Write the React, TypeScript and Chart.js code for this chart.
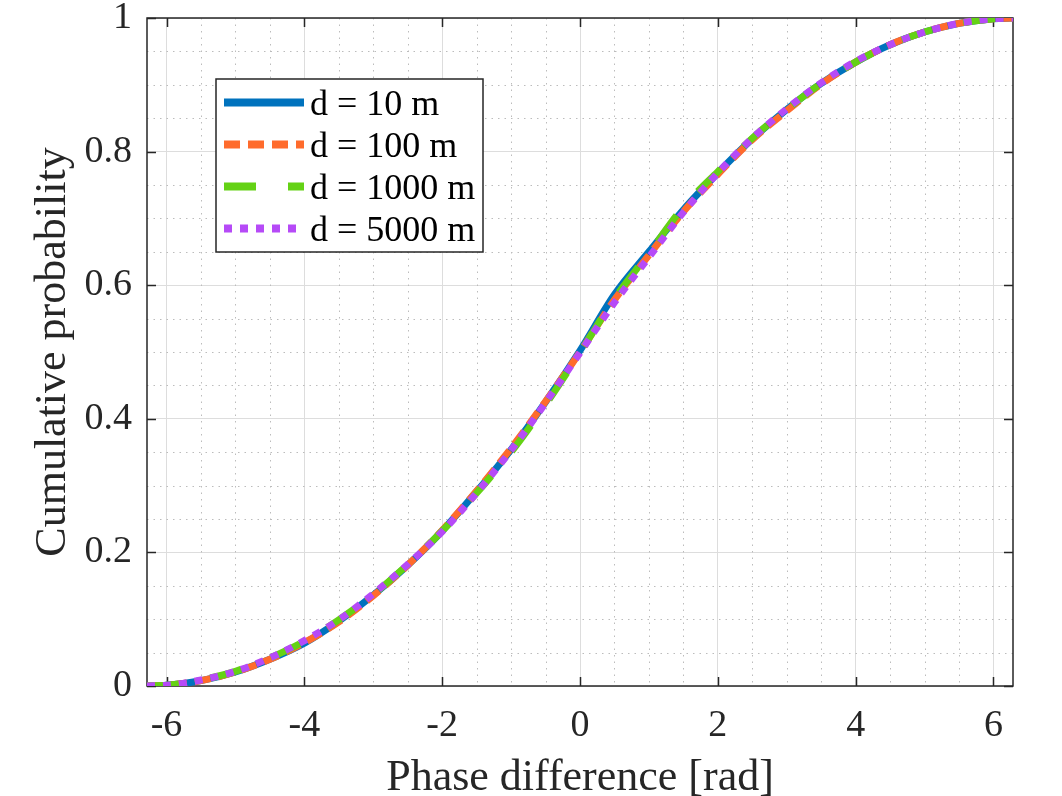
import React, { useEffect, useRef } from 'react';
import { Chart, registerables } from 'chart.js';

Chart.register(...registerables);

// ---- data ----
const phase = [
  -6.2832, -6, -5.5, -5, -4.5, -4, -3.5, -3, -2.5, -2, -1.5, -1, -0.5, 0,
  0.5, 1, 1.5, 2, 2.5, 3, 3.5, 4, 4.5, 5, 5.5, 6, 6.2832,
];
const cdf10 = [
  0, 0.001, 0.008, 0.021, 0.040, 0.064, 0.097, 0.136, 0.181, 0.232, 0.291, 0.354, 0.425, 0.502,
  0.586, 0.650, 0.713, 0.768, 0.819, 0.863, 0.902, 0.934, 0.960, 0.979, 0.992, 0.999, 1,
];
const cdf100 = [
  0, 0.001, 0.008, 0.021, 0.040, 0.065, 0.096, 0.135, 0.181, 0.233, 0.292, 0.356, 0.426, 0.500,
  0.578, 0.645, 0.710, 0.766, 0.818, 0.861, 0.901, 0.934, 0.960, 0.979, 0.992, 0.999, 1,
];
const cdf1000 = [
  0, 0.001, 0.009, 0.022, 0.042, 0.067, 0.099, 0.137, 0.182, 0.232, 0.289, 0.350, 0.421, 0.499,
  0.580, 0.648, 0.717, 0.770, 0.820, 0.863, 0.902, 0.934, 0.960, 0.979, 0.992, 0.999, 1,
];
const cdf5000 = [
  0, 0.001, 0.009, 0.022, 0.042, 0.068, 0.099, 0.138, 0.182, 0.231, 0.289, 0.353, 0.424, 0.499,
  0.574, 0.642, 0.709, 0.768, 0.820, 0.864, 0.903, 0.935, 0.960, 0.979, 0.992, 0.999, 1,
];
const seriesLabels = ['d = 10 m', 'd = 100 m', 'd = 1000 m', 'd = 5000 m'];

const xTickValues = [-6, -4, -2, 0, 2, 4, 6];
const xTickLabels = ['-6', '-4', '-2', '0', '2', '4', '6'];
const yTickValues = [0, 0.2, 0.4, 0.6, 0.8, 1];
const yTickLabels = ['0', '0.2', '0.4', '0.6', '0.8', '1'];
const xMin = -6.2832;
const xMax = 6.2832;
const xMinorStep = 0.5;
const yMinorStep = 0.05;

const FONT = "'Liberation Serif', 'Times New Roman', serif";
const AXIS_COLOR = '#262626';

const framePlugin = {
  id: 'frameAndMinorGrid',
  beforeDatasetsDraw(chart: any) {
    const { ctx, chartArea: a, scales } = chart;
    const x = scales.x;
    const y = scales.y;
    ctx.save();
    // minor dotted grid
    ctx.strokeStyle = '#bcbcbc';
    ctx.lineWidth = 1;
    ctx.setLineDash([1.5, 5]);
    ctx.beginPath();
    for (let k = Math.ceil(xMin / xMinorStep); k * xMinorStep <= xMax; k++) {
      const v = k * xMinorStep;
      if (xTickValues.some((t) => Math.abs(t - v) < 1e-6)) continue;
      const px = Math.round(x.getPixelForValue(v)) + 0.5;
      ctx.moveTo(px, a.top);
      ctx.lineTo(px, a.bottom);
    }
    for (let k = 1; k * yMinorStep < 1 - 1e-6; k++) {
      const v = k * yMinorStep;
      if (yTickValues.some((t) => Math.abs(t - v) < 1e-6)) continue;
      const py = Math.round(y.getPixelForValue(v)) + 0.5;
      ctx.moveTo(a.left, py);
      ctx.lineTo(a.right, py);
    }
    ctx.stroke();
    ctx.setLineDash([]);
    // frame
    ctx.strokeStyle = AXIS_COLOR;
    ctx.lineWidth = 1.5;
    ctx.strokeRect(a.left, a.top, a.right - a.left, a.bottom - a.top);
    // inward ticks
    const tl = 9;
    ctx.beginPath();
    xTickValues.forEach((v) => {
      const px = Math.round(x.getPixelForValue(v)) + 0.5;
      ctx.moveTo(px, a.bottom);
      ctx.lineTo(px, a.bottom - tl);
      ctx.moveTo(px, a.top);
      ctx.lineTo(px, a.top + tl);
    });
    yTickValues.forEach((v) => {
      const py = Math.round(y.getPixelForValue(v)) + 0.5;
      ctx.moveTo(a.left, py);
      ctx.lineTo(a.left + tl, py);
      ctx.moveTo(a.right, py);
      ctx.lineTo(a.right - tl, py);
    });
    ctx.stroke();
    ctx.restore();
  },
};

const legendPlugin = {
  id: 'boxLegend',
  afterDraw(chart: any) {
    const { ctx, chartArea: a } = chart;
    const bx = a.left + 69;
    const by = a.top + 61;
    const bw = 267;
    const bh = 173;
    ctx.save();
    ctx.fillStyle = '#ffffff';
    ctx.fillRect(bx, by, bw, bh);
    ctx.strokeStyle = AXIS_COLOR;
    ctx.lineWidth = 1.5;
    ctx.strokeRect(bx, by, bw, bh);
    chart.data.datasets.forEach((ds: any, i: number) => {
      const cy = by + 23.5 + i * 42;
      ctx.beginPath();
      ctx.strokeStyle = ds.borderColor;
      ctx.lineWidth = 8;
      ctx.lineCap = 'butt';
      ctx.setLineDash(ds.borderDash || []);
      ctx.moveTo(bx + 8, cy);
      ctx.lineTo(bx + 88, cy);
      ctx.stroke();
      ctx.setLineDash([]);
      ctx.fillStyle = '#000000';
      ctx.font = `36px ${FONT}`;
      ctx.textAlign = 'left';
      ctx.textBaseline = 'middle';
      ctx.fillText(ds.label, bx + 94, cy + 3);
    });
    ctx.restore();
  },
};

export default function App() {
  const ref = useRef<HTMLCanvasElement>(null);
  useEffect(() => {
    document.body.style.margin = '0';
    const canvas = ref.current;
    if (!canvas) return;
    const colors = ['#0072BD', '#FF6B2C', '#64D215', '#B64AF7'];
    const dashes = [[], [16, 8], [32, 32], [8, 8]];
    const series = [cdf10, cdf100, cdf1000, cdf5000];
    const datasets = series.map((s, i) => ({
      label: seriesLabels[i],
      data: phase.map((x, j) => ({ x, y: s[j] })),
      borderColor: colors[i],
      backgroundColor: colors[i],
      borderWidth: 7,
      borderDash: dashes[i],
      borderCapStyle: 'butt' as const,
      pointRadius: 0,
      fill: false,
      cubicInterpolationMode: 'monotone' as const,
      order: 3 - i,
    }));
    const chart = new Chart(canvas, {
      type: 'line',
      data: { datasets },
      plugins: [framePlugin, legendPlugin],
      options: {
        animation: false,
        responsive: false,
        devicePixelRatio: 1,
        layout: { padding: { left: 0, right: 49, top: 18, bottom: 0 } },
        plugins: { legend: { display: false }, tooltip: { enabled: false } },
        scales: {
          x: {
            type: 'linear',
            min: xMin,
            max: xMax,
            afterBuildTicks: (s: any) => {
              s.ticks = xTickValues.map((v) => ({ value: v }));
            },
            afterFit: (s: any) => {
              s.height = 110;
              s.paddingLeft = 0;
              s.paddingRight = 0;
            },
            ticks: {
              callback: (v: any) => xTickLabels[xTickValues.indexOf(Number(v))],
              font: { family: FONT, size: 38, lineHeight: 1 },
              color: AXIS_COLOR,
              padding: 21,
              maxRotation: 0,
              autoSkip: false,
            },
            grid: { color: '#dddddd', lineWidth: 1, drawTicks: false },
            border: { display: false },
            title: {
              display: true,
              text: 'Phase difference [rad]',
              font: { family: FONT, size: 44, lineHeight: 1 },
              color: AXIS_COLOR,
              padding: { top: 0, bottom: -4 },
            },
          },
          y: {
            type: 'linear',
            min: 0,
            max: 1,
            afterBuildTicks: (s: any) => {
              s.ticks = yTickValues.map((v) => ({ value: v }));
            },
            afterFit: (s: any) => {
              s.width = 147;
              s.paddingTop = 0;
              s.paddingBottom = 0;
            },
            ticks: {
              callback: (v: any) => yTickLabels[yTickValues.findIndex((t) => Math.abs(t - Number(v)) < 1e-9)],
              font: { family: FONT, size: 38, lineHeight: 1 },
              color: AXIS_COLOR,
              padding: 15,
              autoSkip: false,
            },
            grid: { color: '#dddddd', lineWidth: 1, drawTicks: false },
            border: { display: false },
            title: {
              display: true,
              text: 'Cumulative probability',
              font: { family: FONT, size: 44, lineHeight: 1 },
              color: AXIS_COLOR,
              padding: { top: 31, bottom: 0 },
            },
          },
        },
      },
    });
    return () => chart.destroy();
  }, []);
  return (
    <div style={{ width: 1062, height: 796 }}>
      <canvas ref={ref} width={1062} height={796} style={{ display: 'block' }} />
    </div>
  );
}
